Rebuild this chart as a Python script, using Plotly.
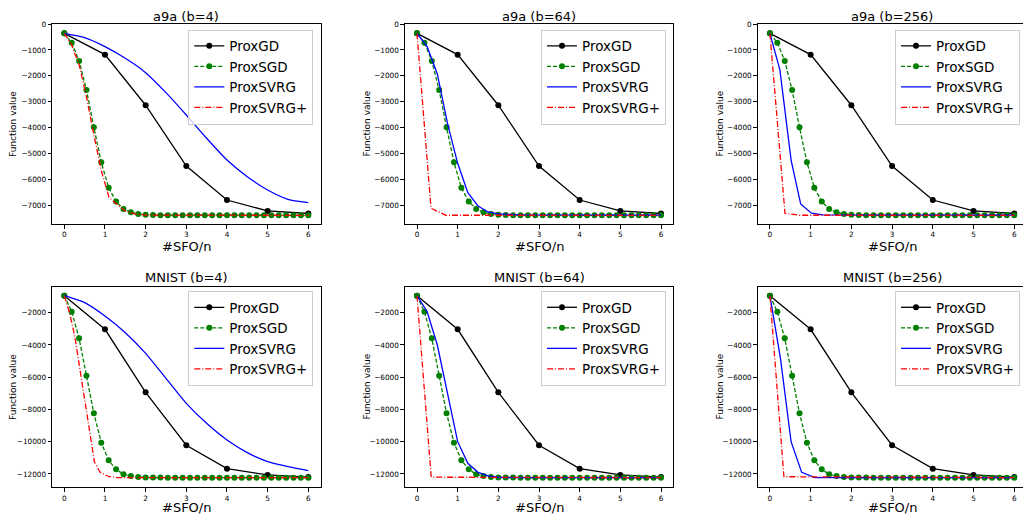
import plotly.graph_objects as go

# ---------------- data ----------------
titles = ["a9a (b=4)", "a9a (b=64)", "a9a (b=256)",
          "MNIST (b=4)", "MNIST (b=64)", "MNIST (b=256)"]
series_names = ["ProxGD", "ProxSGD", "ProxSVRG", "ProxSVRG+"]

x_gd = [0, 1, 2, 3, 4, 5, 6]
a9a_gd = [-360, -1180, -3130, -5470, -6780, -7200, -7300]
mnist_gd = [-946, -3030, -6940, -10220, -11670, -12060, -12190]

x_sgd = [0.0, 0.182, 0.364, 0.545, 0.727, 0.909, 1.091, 1.273, 1.455, 1.636,
         1.818, 2.0, 2.182, 2.364, 2.545, 2.727, 2.909, 3.091, 3.273, 3.455,
         3.636, 3.818, 4.0, 4.182, 4.364, 4.545, 4.727, 4.909, 5.091, 5.273,
         5.455, 5.636, 5.818, 6.0]
a9a_sgd = [-360, -719, -1425, -2542, -3979, -5327, -6303, -6842, -7125, -7253,
           -7317, -7350, -7360, -7364, -7366, -7367, -7368, -7368, -7368, -7368,
           -7368, -7368, -7368, -7368, -7368, -7368, -7368, -7368, -7368, -7368,
           -7368, -7368, -7368, -7368]
mnist_sgd = [-946, -1938, -3591, -5905, -8240, -10058, -11153, -11711, -12021, -12124,
             -12186, -12212, -12222, -12226, -12228, -12229, -12230, -12230, -12230, -12230,
             -12230, -12230, -12230, -12230, -12230, -12230, -12230, -12230, -12230, -12230,
             -12230, -12230, -12230, -12230]

# ProxSVRG
a9a_b4_svrg_x = [0, 0.5, 1, 1.5, 2, 2.5, 3, 3.5, 4, 4.5, 5, 5.5, 6]
a9a_b4_svrg_y = [-360, -526, -873, -1322, -1874, -2645, -3505, -4403, -5240, -5880, -6393, -6752, -6880]
a9a_b64_svrg_x = [0, 0.25, 0.5, 0.75, 1.0, 1.25, 1.5, 1.75, 2.0, 2.5, 6]
a9a_b64_svrg_y = [-360, -873, -1925, -3825, -5366, -6495, -7009, -7240, -7317, -7355, -7365]
a9a_b256_svrg_x = [0, 0.245, 0.52, 0.755, 1.02, 1.3, 6]
a9a_b256_svrg_y = [-360, -1770, -5240, -6930, -7290, -7350, -7365]
mnist_b4_svrg_x = [0, 0.5, 1, 1.5, 2, 2.5, 3, 3.5, 4, 4.5, 5, 5.5, 6]
mnist_b4_svrg_y = [-946, -1380, -2207, -3240, -4521, -6070, -7620, -8860, -9893, -10678, -11236, -11545, -11793]
mnist_b64_svrg_x = [0, 0.25, 0.5, 0.75, 1.0, 1.25, 1.5, 1.75, 2.0, 2.5, 6]
mnist_b64_svrg_y = [-946, -1938, -4004, -7000, -9996, -11340, -11897, -12124, -12207, -12225, -12230]
mnist_b256_svrg_x = [0, 0.26, 0.52, 0.78, 1.1, 6]
mnist_b256_svrg_y = [-946, -4850, -10000, -11900, -12220, -12230]

# ProxSVRG+
a9a_b4_plus_x = [0, 0.18, 0.37, 0.55, 0.73, 0.92, 1.1, 1.3, 1.5, 1.75, 2.0, 6]
a9a_b4_plus_y = [-360, -800, -1600, -2850, -4300, -5700, -6680, -6950, -7200, -7320, -7360, -7370]
a9a_b64_plus_x = [0, 0.345, 0.71, 6]
a9a_b64_plus_y = [-360, -7100, -7366, -7370]
a9a_b256_plus_x = [0, 0.37, 0.72, 6]
a9a_b256_plus_y = [-360, -7295, -7366, -7370]
mnist_b4_plus_x = [0, 0.13, 0.26, 0.41, 0.53, 0.65, 0.74, 0.88, 1.1, 1.3, 6]
mnist_b4_plus_y = [-946, -2000, -3500, -6000, -8000, -10000, -11240, -11900, -12170, -12220, -12230]
mnist_b64_plus_x = [0, 0.35, 6]
mnist_b64_plus_y = [-946, -12200, -12225]
mnist_b256_plus_x = [0, 0.344, 6]
mnist_b256_plus_y = [-946, -12170, -12225]

x_ticks = [0, 1, 2, 3, 4, 5, 6]
a9a_yticks = [0, -1000, -2000, -3000, -4000, -5000, -6000, -7000]
mnist_yticks = [-2000, -4000, -6000, -8000, -10000, -12000]

panels = [
    (a9a_gd, a9a_sgd, a9a_b4_svrg_x, a9a_b4_svrg_y, a9a_b4_plus_x, a9a_b4_plus_y),
    (a9a_gd, a9a_sgd, a9a_b64_svrg_x, a9a_b64_svrg_y, a9a_b64_plus_x, a9a_b64_plus_y),
    (a9a_gd, a9a_sgd, a9a_b256_svrg_x, a9a_b256_svrg_y, a9a_b256_plus_x, a9a_b256_plus_y),
    (mnist_gd, mnist_sgd, mnist_b4_svrg_x, mnist_b4_svrg_y, mnist_b4_plus_x, mnist_b4_plus_y),
    (mnist_gd, mnist_sgd, mnist_b64_svrg_x, mnist_b64_svrg_y, mnist_b64_plus_x, mnist_b64_plus_y),
    (mnist_gd, mnist_sgd, mnist_b256_svrg_x, mnist_b256_svrg_y, mnist_b256_plus_x, mnist_b256_plus_y),
]

# ---------------- layout geometry (pixels) ----------------
W, H = 1023, 514
FONT = "DejaVu Sans"
col_px = [(52.1, 320.5), (404.8, 673.2), (757.7, 1023.0)]
col_center = [186.3, 539.0, 892.0]
col_xrange = [[-0.3, 6.3], [-0.3, 6.3], [-0.3, 6.215]]
ylab_x = [13.0, 366.5, 719.5]
legend_right = [313.3, 666.0, 1020.0]
row_px = [(24.0, 224.0), (286.7, 487.3)]
row_yrange = [[-7704, 0], [-12826, -388]]
title_y = [16.0, 277.5]
xlab_y = [246.5, 507.0]
legend_top = [29.5, 291.0]


def px_x(v):
    return v / W


def px_y(v):
    return 1 - v / H


def fmt(v):
    return ("\u2212" + str(-v)) if v < 0 else str(v)


fig = go.Figure()
layout = dict(width=W, height=H, margin=dict(l=0, r=0, t=0, b=0, autoexpand=False),
              paper_bgcolor="white", plot_bgcolor="white",
              font=dict(family=FONT, color="black"), annotations=[])

colors = ["black", "#008000", "#0000ff", "#ff0000"]
LW = 1.3

for i, (gd, sgd, svx, svy, plx, ply) in enumerate(panels):
    r, c = divmod(i, 3)
    n = "" if i == 0 else str(i + 1)
    xa, ya = "x" + n, "y" + n
    lg = "legend" + n
    fig.add_trace(go.Scatter(x=x_gd, y=gd, name=series_names[0], mode="lines+markers",
                             line=dict(color=colors[0], width=LW),
                             marker=dict(symbol="circle", size=6, color=colors[0]),
                             xaxis=xa, yaxis=ya, legend=lg))
    fig.add_trace(go.Scatter(x=x_sgd, y=sgd, name=series_names[1], mode="lines+markers",
                             line=dict(color=colors[1], width=LW, dash="4px,2px"),
                             marker=dict(symbol="circle", size=6, color=colors[1]),
                             xaxis=xa, yaxis=ya, legend=lg))
    fig.add_trace(go.Scatter(x=svx, y=svy, name=series_names[2], mode="lines",
                             line=dict(color=colors[2], width=LW,
                                       shape="spline" if len(svx) > 11 else "linear",
                                       smoothing=0.6),
                             xaxis=xa, yaxis=ya, legend=lg))
    fig.add_trace(go.Scatter(x=plx, y=ply, name=series_names[3], mode="lines",
                             line=dict(color=colors[3], width=LW, dash="6px,2px,1px,2px"),
                             xaxis=xa, yaxis=ya, legend=lg))

    yt = a9a_yticks if r == 0 else mnist_yticks
    layout["xaxis" + n] = dict(
        domain=[px_x(col_px[c][0]), px_x(col_px[c][1])], range=col_xrange[c],
        anchor=ya, showgrid=False, zeroline=False, showline=True, linecolor="black",
        linewidth=1, mirror=True, ticks="outside", ticklen=3.5, tickwidth=1,
        tickcolor="black", tickvals=x_ticks, ticktext=[str(t) for t in x_ticks],
        tickfont=dict(size=7.3, family=FONT, color="black"), automargin=False)
    layout["yaxis" + n] = dict(
        domain=[px_y(row_px[r][1]), px_y(row_px[r][0])], range=row_yrange[r],
        anchor=xa, showgrid=False, zeroline=False, showline=True, linecolor="black",
        linewidth=1, mirror=(c != 2), ticks="outside", ticklen=3.5, tickwidth=1,
        tickcolor="black", tickvals=yt, ticktext=[fmt(t) for t in yt],
        tickfont=dict(size=7.3, family=FONT, color="black"), automargin=False)
    layout[lg] = dict(
        x=px_x(legend_right[c]), xanchor="right", y=px_y(legend_top[r]), yanchor="top",
        bgcolor="rgba(255,255,255,0.8)", bordercolor="#cccccc", borderwidth=1,
        font=dict(size=13.5, family=FONT, color="black"), itemwidth=30,
        tracegroupgap=0)
    layout["annotations"] += [
        dict(text=titles[i], x=px_x(col_center[c]), y=px_y(title_y[r]), xref="paper",
             yref="paper", xanchor="center", yanchor="middle", showarrow=False,
             font=dict(size=13, family=FONT, color="black")),
        dict(text="#SFO/n", x=px_x(col_center[c]), y=px_y(xlab_y[r]), xref="paper",
             yref="paper", xanchor="center", yanchor="middle", showarrow=False,
             font=dict(size=13, family=FONT, color="black")),
        dict(text="Function value", x=px_x(ylab_x[c]),
             y=px_y((row_px[r][0] + row_px[r][1]) / 2), xref="paper", yref="paper",
             xanchor="center", yanchor="middle", textangle=-90, showarrow=False,
             font=dict(size=9, family=FONT, color="black")),
    ]

fig.update_layout(**layout)
fig.write_html("out.html",
               config={"displayModeBar": False},
               post_script="document.body.style.margin='0';"
                           "document.body.style.overflow='hidden';")
